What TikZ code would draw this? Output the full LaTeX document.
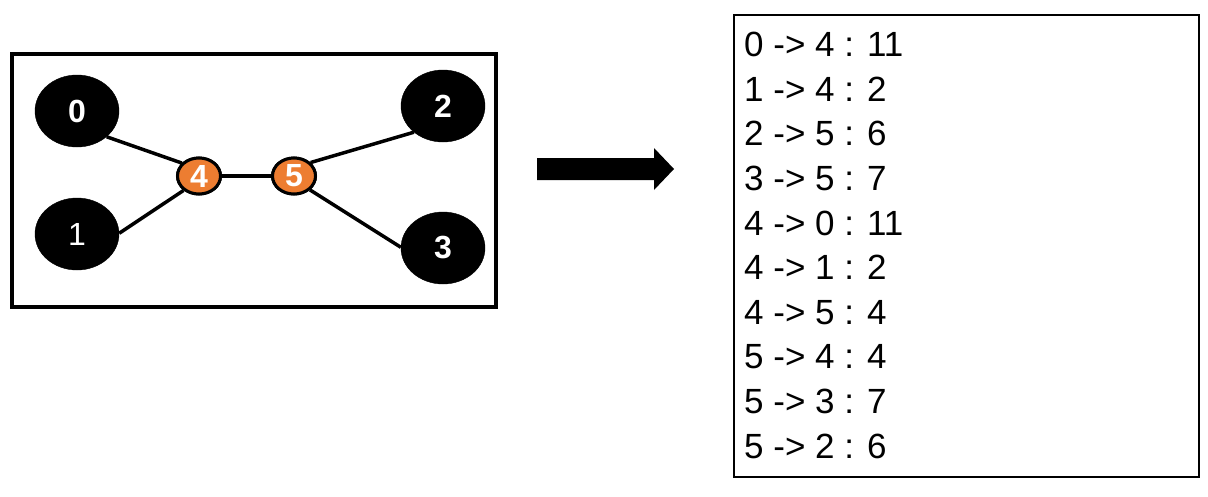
\documentclass[tikz,border=0pt]{standalone}
\usepackage{fontspec}
\setmainfont{Liberation Sans}
\usetikzlibrary{shapes.geometric}
\definecolor{orng}{HTML}{ED7D31}
\begin{document}
\begin{tikzpicture}[x=1pt,y=-1pt,
  bignode/.style={ellipse,fill=black,draw=black,minimum width=84pt,minimum height=72pt,inner sep=0pt,text=white,font=\bfseries\fontsize{32}{32}\selectfont},
  smallnode/.style={ellipse,fill=orng,draw=black,line width=3pt,minimum width=43pt,minimum height=36pt,inner sep=0pt,text=white,font=\bfseries\fontsize{32}{32}\selectfont},
  edge/.style={line width=3.5pt},
  listline/.style={anchor=base west,inner sep=0pt,font=\fontsize{35}{35}\selectfont}]
\useasboundingbox (0,0) rectangle (1208,496);
\fill[white] (0,0) rectangle (1208,496);
% left frame
\draw[line width=4pt] (12,54) rectangle (496,307);
% edges first, nodes on top
\path (77,111) coordinate (c0) (77,234) coordinate (c1) (443,106) coordinate (c2)
      (443,248) coordinate (c3) (199,176) coordinate (c4) (294,176) coordinate (c5);
\node[bignode] (n0) at (c0) {0};
\node[bignode,font=\fontsize{32}{32}\selectfont] (n1) at (c1) {1};
\node[bignode] (n2) at (c2) {2};
\node[bignode] (n3) at (c3) {3};
\node[smallnode] (n4) at (c4) {4};
\node[smallnode] (n5) at (c5) {5};
\draw[edge] (n0.-41) -- (n4.143);
\draw[edge] (n1.1) -- (n4.223);
\draw[edge] (n4) -- (n5);
\draw[edge] (n5.39) -- (n2.222);
\draw[edge] (n5.-41) -- (n3.179);
\node[smallnode] at (n4) {4};
\node[smallnode] at (n5) {5};
% block arrow
\fill[black] (537,158) -- (654,158) -- (654,148) -- (674,169) -- (654,190) -- (654,180) -- (537,180) -- cycle;
% right list
\draw[line width=1.3pt] (734,15) rectangle (1199,477);
\foreach \t [count=\i from 0] in {0 -> 4 : 11,1 -> 4 : 2,2 -> 5 : 6,3 -> 5 : 7,4 -> 0 : 11,4 -> 1 : 2,4 -> 5 : 4,5 -> 4 : 4,5 -> 3 : 7,5 -> 2 : 6}
  \node[listline] (l\i) at (744,56.7+44.6*\i) {\t};
\end{tikzpicture}
\end{document}
